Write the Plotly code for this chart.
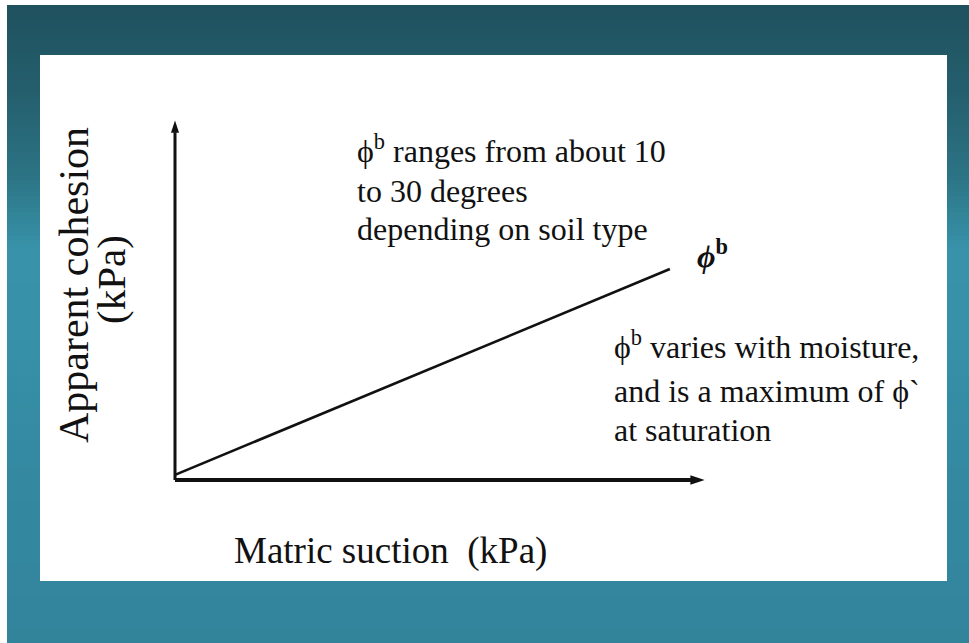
import plotly.graph_objects as go

W, H = 969, 643

# data (normalised units along the schematic axes)
suction = [0.0, 0.925]
cohesion = [0.014, 0.578]
x_axis_x = [0.0, 0.99]
x_axis_y = [0.0, 0.0]
y_axis_x = [0.0, 0.0]
y_axis_y = [0.0, 0.985]

x_label = "Matric suction  (kPa)"
y_label_1 = "Apparent cohesion"
y_label_2 = "(kPa)"
note_top = ["ϕ<sup>b</sup> ranges from about 10", "to 30 degrees", "depending on soil type"]
note_right = ["ϕ<sup>b</sup> varies with moisture,", "and is a maximum of ϕ`", "at saturation"]
line_label = "<b><i>ϕ</i></b><sup><b>b</b></sup>"

def px(x):
    return x / W

def py(y):
    return 1 - y / H

fig = go.Figure()
fig.add_trace(go.Scatter(x=suction, y=cohesion, mode="lines",
                         line=dict(color="#111111", width=2.6), hoverinfo="skip",
                         showlegend=False))
# axis arrows
fig.add_trace(go.Scatter(x=x_axis_x, y=x_axis_y, mode="lines+markers",
                         line=dict(color="#111111", width=4),
                         marker=dict(symbol="arrow", size=[0, 15], angleref="previous",
                                     color="#111111", opacity=1, line=dict(width=0)),
                         hoverinfo="skip", showlegend=False, cliponaxis=False))
fig.add_trace(go.Scatter(x=y_axis_x, y=y_axis_y, mode="lines+markers",
                         line=dict(color="#111111", width=3),
                         marker=dict(symbol="arrow", size=[0, 13], angleref="previous",
                                     color="#111111", opacity=1, line=dict(width=0)),
                         hoverinfo="skip", showlegend=False, cliponaxis=False))

shapes = []
# gradient background
stops = [(0, (31, 80, 93)), (100, (37, 96, 111)), (180, (44, 117, 134)),
         (250, (56, 147, 170)), (320, (55, 146, 169)), (450, (52, 138, 162)),
         (643, (50, 132, 155))]
def col(y):
    for (y0, c0), (y1, c1) in zip(stops[:-1], stops[1:]):
        if y0 <= y <= y1:
            t = (y - y0) / (y1 - y0)
            return "rgb(%d,%d,%d)" % tuple(round(a + (b - a) * t) for a, b in zip(c0, c1))
    return "rgb(%d,%d,%d)" % stops[-1][1]

step = 4
for y in range(0, H, step):
    shapes.append(dict(type="rect", xref="paper", yref="paper", layer="below",
                       x0=0, x1=1, y0=py(y + step), y1=py(y),
                       fillcolor=col(y + step / 2), line=dict(width=0)))
# white strips at top and left edges
shapes.append(dict(type="rect", xref="paper", yref="paper", layer="below",
                   x0=0, x1=1, y0=py(5), y1=1, fillcolor="white", line=dict(width=0)))
shapes.append(dict(type="rect", xref="paper", yref="paper", layer="below",
                   x0=0, x1=px(7), y0=0, y1=1, fillcolor="white", line=dict(width=0)))
# white panel
shapes.append(dict(type="rect", xref="paper", yref="paper", layer="below",
                   x0=px(40), x1=px(947), y0=py(581), y1=py(55),
                   fillcolor="white", line=dict(width=0)))

annotations = []
def txt(s, x, y, size, xanchor="left", angle=0, family="Liberation Serif"):
    annotations.append(dict(text=s, x=px(x), y=py(y), xref="paper", yref="paper",
                            xanchor=xanchor, yanchor="middle", showarrow=False,
                            textangle=angle,
                            font=dict(family=family, size=size, color="#111111")))

txt(x_label, 232, 551, 37)
txt(y_label_1, 74, 285, 42, xanchor="center", angle=-90)
txt(y_label_2, 111, 280, 41, xanchor="center", angle=-90)
for s, y in zip(note_top, [149, 191, 229]):
    txt(s, 355, y, 32)
for s, y in zip(note_right, [345, 391, 430]):
    txt(s, 612, y, 32)
txt(line_label, 695, 254, 32)

# axes: data 0..1 maps to x pixels 175..710 and y pixels 480..115; pad range by 0.1
pad = 0.1
x0p, x1p = 175, 710
y0p, y1p = 480, 115
xd = [px(x0p - pad * (x1p - x0p)), px(x1p + pad * (x1p - x0p))]
yd = [py(y0p + pad * (y0p - y1p)), py(y1p - pad * (y0p - y1p))]

fig.update_layout(
    width=W, height=H, margin=dict(l=0, r=0, t=0, b=0),
    paper_bgcolor="white", plot_bgcolor="rgba(0,0,0,0)",
    xaxis=dict(domain=xd, range=[-pad, 1 + pad], visible=False, fixedrange=True),
    yaxis=dict(domain=yd, range=[-pad, 1 + pad], visible=False, fixedrange=True),
    shapes=shapes, annotations=annotations, showlegend=False,
)

fig.write_html("out.html", config={"displayModeBar": False},
               post_script="document.body.style.margin='0';document.body.style.overflow='hidden';")
